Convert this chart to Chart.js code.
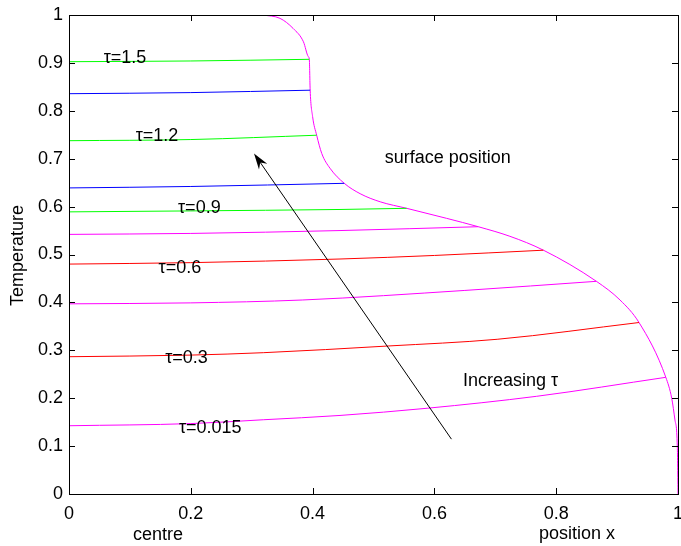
<!DOCTYPE html>
<html>
<head>
<meta charset="utf-8">
<script src="https://cdn.jsdelivr.net/npm/chart.js@4.4.1/dist/chart.umd.min.js"></script>
<style>
  body { margin: 0; background: #fff; }
  canvas { display: block; }
</style>
</head>
<body>
<canvas id="tempChart" width="681" height="546"></canvas>
<script>
// temperature profiles, one per time step (x from centre to the surface)
const profileColors = ['#ff00ff', '#ff0000', '#ff00ff', '#ff0000', '#ff00ff', '#00ff00', '#0000ff', '#00ff00', '#0000ff', '#00ff00'];
const profileX = [
  [0, 0.2, 0.319, 0.445, 0.588, 0.768, 0.980],
  [0, 0.2, 0.319, 0.524, 0.703, 0.936],
  [0, 0.2, 0.383, 0.65, 0.866],
  [0, 0.2, 0.445, 0.6, 0.779],
  [0, 0.2, 0.445, 0.672],
  [0, 0.2, 0.445, 0.5545],
  [0, 0.2, 0.452],
  [0, 0.2, 0.4067],
  [0, 0.2, 0.396],
  [0, 0.2, 0.3946]
];
const profileY = [
  [0.1425, 0.147, 0.155, 0.164, 0.179, 0.204, 0.2436],
  [0.2866, 0.290, 0.295, 0.309, 0.323, 0.358],
  [0.397, 0.399, 0.405, 0.425, 0.444],
  [0.480, 0.483, 0.4906, 0.498, 0.509],
  [0.542, 0.544, 0.550, 0.558],
  [0.589, 0.591, 0.594, 0.5964],
  [0.639, 0.642, 0.6486],
  [0.7376, 0.740, 0.749],
  [0.8357, 0.838, 0.843],
  [0.9025, 0.904, 0.9075]
];

// surface position curve
const surfaceX = [0.319, 0.3465, 0.368, 0.385, 0.393, 0.3946, 0.396, 0.400, 0.4067, 0.415, 0.4286, 0.452, 0.478, 0.511, 0.5545, 0.620, 0.672, 0.724, 0.779, 0.866, 0.9048, 0.936, 0.980, 0.9897, 0.995, 0.9989, 1.0];
const surfaceY = [1.0, 0.993, 0.972, 0.944, 0.913, 0.9075, 0.843, 0.788, 0.749, 0.711, 0.680, 0.6486, 0.627, 0.610, 0.5964, 0.5755, 0.558, 0.538, 0.509, 0.444, 0.405, 0.358, 0.2436, 0.1998, 0.1545, 0.0988, 0.0];

// text annotations (data coordinates of label centres)
const noteText = ['\u03c4=1.5', '\u03c4=1.2', '\u03c4=0.9', '\u03c4=0.6', '\u03c4=0.3', '\u03c4=0.015', 'surface position', 'Increasing \u03c4'];
const noteX = [0.092, 0.1445, 0.214, 0.182, 0.193, 0.232, 0.622, 0.725];
const noteY = [0.910, 0.747, 0.597, 0.472, 0.284, 0.138, 0.701, 0.236];

// arrow from tail to head
const arrowFrom = [0.628, 0.1145];
const arrowTo = [0.3038, 0.711];

const xTicks = [0, 0.2, 0.4, 0.6, 0.8, 1];
const yTicks = [0, 0.1, 0.2, 0.3, 0.4, 0.5, 0.6, 0.7, 0.8, 0.9, 1];

const FONT = '"Liberation Sans", Arial, sans-serif';

const datasets = profileX.map((xs, i) => ({
  data: xs.map((x, j) => ({ x: x, y: profileY[i][j] })),
  borderColor: profileColors[i],
  borderWidth: 1,
  pointRadius: 0,
  showLine: true,
  fill: false,
  cubicInterpolationMode: 'monotone'
}));
datasets.push({
  data: surfaceX.map((x, j) => ({ x: x, y: surfaceY[j] })),
  borderColor: '#ff00ff',
  borderWidth: 1,
  pointRadius: 0,
  showLine: true,
  fill: false,
  cubicInterpolationMode: 'monotone'
});

// frame, inward ticks, annotations, arrow, axis texts
const decorations = {
  id: 'decorations',
  afterDatasetsDraw(chart) {
    const ctx = chart.ctx;
    const xs = chart.scales.x, ys = chart.scales.y;
    const a = chart.chartArea;
    ctx.save();
    ctx.strokeStyle = '#000';
    ctx.lineWidth = 1;
    ctx.strokeRect(Math.round(a.left) + 0.5, Math.round(a.top) + 0.5, Math.round(a.right - a.left), Math.round(a.bottom - a.top));
    ctx.beginPath();
    xTicks.forEach(v => {
      const px = Math.round(xs.getPixelForValue(v)) + 0.5;
      ctx.moveTo(px, a.bottom); ctx.lineTo(px, a.bottom - 6);
      ctx.moveTo(px, a.top); ctx.lineTo(px, a.top + 6);
    });
    yTicks.forEach(v => {
      const py = Math.round(ys.getPixelForValue(v)) + 0.5;
      ctx.moveTo(a.left, py); ctx.lineTo(a.left + 6, py);
      ctx.moveTo(a.right, py); ctx.lineTo(a.right - 6, py);
    });
    ctx.stroke();

    // arrow
    const x1 = xs.getPixelForValue(arrowFrom[0]), y1 = ys.getPixelForValue(arrowFrom[1]);
    const x2 = xs.getPixelForValue(arrowTo[0]), y2 = ys.getPixelForValue(arrowTo[1]);
    const ang = Math.atan2(y2 - y1, x2 - x1);
    ctx.beginPath();
    ctx.moveTo(x1, y1);
    ctx.lineTo(x2 - 10 * Math.cos(ang), y2 - 10 * Math.sin(ang));
    ctx.stroke();
    ctx.fillStyle = '#000';
    ctx.beginPath();
    ctx.moveTo(x2, y2);
    ctx.lineTo(x2 - 16 * Math.cos(ang) + 5 * Math.sin(ang), y2 - 16 * Math.sin(ang) - 5 * Math.cos(ang));
    ctx.lineTo(x2 - 11 * Math.cos(ang), y2 - 11 * Math.sin(ang));
    ctx.lineTo(x2 - 16 * Math.cos(ang) - 5 * Math.sin(ang), y2 - 16 * Math.sin(ang) + 5 * Math.cos(ang));
    ctx.closePath();
    ctx.fill();

    // annotations
    ctx.font = '18px ' + FONT;
    ctx.textAlign = 'center';
    ctx.textBaseline = 'middle';
    ctx.fillStyle = '#000';
    noteText.forEach((t, i) => {
      ctx.fillText(t, xs.getPixelForValue(noteX[i]), ys.getPixelForValue(noteY[i]));
    });

    // axis texts
    ctx.fillText('centre', xs.getPixelForValue(0.146), a.bottom + 41);
    ctx.fillText('position x', xs.getPixelForValue(0.834), a.bottom + 40);
    ctx.translate(18, (a.top + a.bottom) / 2 + 1);
    ctx.rotate(-Math.PI / 2);
    ctx.fillText('Temperature', 0, 0);
    ctx.restore();
  }
};

new Chart(document.getElementById('tempChart'), {
  type: 'scatter',
  data: { datasets: datasets },
  options: {
    responsive: false,
    animation: false,
    devicePixelRatio: 1,
    layout: { padding: { left: 0, right: 3, top: 15, bottom: 0 } },
    plugins: { legend: { display: false }, tooltip: { enabled: false } },
    scales: {
      x: {
        type: 'linear', min: 0, max: 1,
        grid: { display: false, drawTicks: false },
        border: { display: false },
        ticks: { stepSize: 0.2, padding: 9, color: '#000', font: { family: FONT, size: 18 },
          callback: v => String(Math.round(v * 10) / 10) },
        afterFit: s => { s.height = 52; s.paddingLeft = 0; s.paddingRight = 0; }
      },
      y: {
        type: 'linear', min: 0, max: 1,
        grid: { display: false, drawTicks: false },
        border: { display: false },
        ticks: { stepSize: 0.1, padding: 6, color: '#000', font: { family: FONT, size: 18 },
          callback: v => String(Math.round(v * 10) / 10) },
        afterFit: s => { s.width = 69; s.paddingTop = 0; s.paddingBottom = 0; }
      }
    }
  },
  plugins: [decorations]
});
</script>
</body>
</html>
